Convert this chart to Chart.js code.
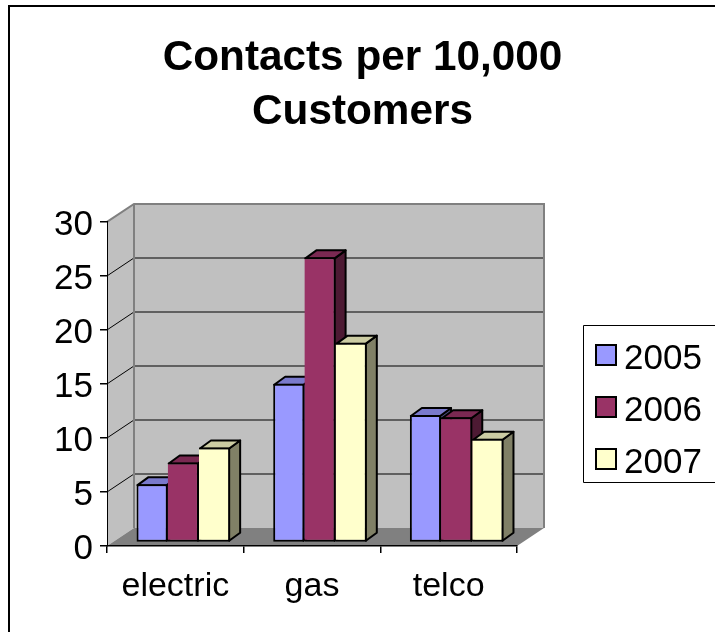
<!DOCTYPE html>
<html>
<head>
<meta charset="utf-8">
<title>Contacts per 10,000 Customers</title>
<script src="https://cdn.jsdelivr.net/npm/chart.js@4"></script>
<style>
html, body { margin: 0; padding: 0; background: #fff; overflow: hidden; }
#frame { position: absolute; left: 8px; top: 5px; width: 707px; height: 627px; border-left: 2px solid #000; border-top: 2px solid #000; box-sizing: border-box; }
#chart { display: block; }
</style>
</head>
<body>
<div id="frame"><canvas id="chart" width="705" height="625"></canvas></div>
<script>
// ===== DATA =====
const categories = ['electric', 'gas', 'telco']
const series2005 = [5.4, 14.7, 11.8]
const series2006 = [7.4, 26.4, 11.6]
const series2007 = [8.8, 18.5, 9.6]
const yTicks = [0, 5, 10, 15, 20, 25, 30]

const colors = { a: '#9999FF', b: '#993366', c: '#FFFFCC' }
const topFaces = { a: '#7A7ACC', b: '#7A2952', c: '#CCCCA3' }
const sideFaces = { a: '#4D4D80', b: '#4D1A33', c: '#808066' }
const fontName = '"Liberation Sans", Arial, sans-serif'

// depth of the box and of the bars, in pixels
const wallDx = 27, wallDy = -18
const barDx = 11, barDy = -8
const barShiftX = 8, barShiftY = -3.5

// ===== TITLE =====
// the right padding keeps room for the legend, the title still centres on the whole canvas
const titleCentrePlugin = {
    id: 'titleCentre',
    afterLayout(chart) {
        chart.titleBlock.left = 0
        chart.titleBlock.right = chart.width
    }
}

// ===== WALLS AND FLOOR =====
const wallsPlugin = {
    id: 'walls',
    beforeDraw(chart) {
        const ctx = chart.ctx
        const a = chart.chartArea
        const y = chart.scales.y
        ctx.save()

        // side wall
        ctx.fillStyle = '#C0C0C0'
        ctx.beginPath()
        ctx.moveTo(a.left, a.top)
        ctx.lineTo(a.left + wallDx, a.top + wallDy)
        ctx.lineTo(a.left + wallDx, a.bottom + wallDy)
        ctx.lineTo(a.left, a.bottom)
        ctx.closePath()
        ctx.fill()

        // back wall
        ctx.fillRect(a.left + wallDx, a.top + wallDy, a.right - a.left, a.bottom - a.top)

        // floor
        ctx.fillStyle = '#808080'
        ctx.beginPath()
        ctx.moveTo(a.left, a.bottom)
        ctx.lineTo(a.right, a.bottom)
        ctx.lineTo(a.right + wallDx, a.bottom + wallDy)
        ctx.lineTo(a.left + wallDx, a.bottom + wallDy)
        ctx.closePath()
        ctx.fill()

        // grid lines, on the back wall then down the side wall
        yTicks.forEach(v => {
            if(v === 0 || v === 30) return
            const py = y.getPixelForValue(v)
            ctx.strokeStyle = '#404040'
            ctx.lineWidth = 1.5
            ctx.beginPath()
            ctx.moveTo(a.left + wallDx, py + wallDy)
            ctx.lineTo(a.right + wallDx, py + wallDy)
            ctx.stroke()
            ctx.strokeStyle = '#000'
            ctx.lineWidth = 1
            ctx.beginPath()
            ctx.moveTo(a.left, py)
            ctx.lineTo(a.left + wallDx, py + wallDy)
            ctx.stroke()
        })

        // grey edges of the box
        ctx.strokeStyle = '#808080'
        ctx.lineWidth = 2
        ctx.beginPath()
        ctx.moveTo(a.left, a.top)
        ctx.lineTo(a.left + wallDx, a.top + wallDy)
        ctx.lineTo(a.right + wallDx, a.top + wallDy)
        ctx.lineTo(a.right + wallDx, a.bottom + wallDy)
        ctx.moveTo(a.left + wallDx, a.top + wallDy)
        ctx.lineTo(a.left + wallDx, a.bottom + wallDy)
        ctx.stroke()
        ctx.restore()
    }
}

// ===== BAR DEPTH =====
const barDepthPlugin = {
    id: 'barDepth',
    beforeDatasetsDraw(chart) {
        const ctx = chart.ctx
        ctx.save()
        ctx.translate(barShiftX, barShiftY)
        ctx.strokeStyle = '#000'
        ctx.lineWidth = 2
        ctx.lineJoin = 'round'
        chart.data.datasets.forEach((ds, i) => {
            chart.getDatasetMeta(i).data.forEach(el => {
                const l = el.x - el.width / 2 + 1
                const r = el.x + el.width / 2 - 1
                const t = el.y + 1
                const b = el.base - 1

                ctx.fillStyle = ds.sideFace
                ctx.beginPath()
                ctx.moveTo(r, t)
                ctx.lineTo(r + barDx, t + barDy)
                ctx.lineTo(r + barDx, b + barDy)
                ctx.lineTo(r, b)
                ctx.closePath()
                ctx.fill()
                ctx.stroke()

                ctx.fillStyle = ds.topFace
                ctx.beginPath()
                ctx.moveTo(l, t)
                ctx.lineTo(l + barDx, t + barDy)
                ctx.lineTo(r + barDx, t + barDy)
                ctx.lineTo(r, t)
                ctx.closePath()
                ctx.fill()
                ctx.stroke()
            })
        })
        ctx.restore()

        // the fronts are drawn by the library, moved back with the same shift
        ctx.save()
        ctx.translate(barShiftX, barShiftY)
    },
    afterDatasetsDraw(chart) {
        chart.ctx.restore()
    }
}

// ===== LEGEND =====
const legendBoxPlugin = {
    id: 'legendBox',
    afterDraw(chart) {
        const ctx = chart.ctx
        const boxLeft = 573.5, boxTop = 318.5, boxBottom = 475.5
        ctx.save()
        ctx.strokeStyle = '#000'
        ctx.lineWidth = 1
        ctx.beginPath()
        ctx.moveTo(chart.width, boxTop)
        ctx.lineTo(boxLeft, boxTop)
        ctx.lineTo(boxLeft, boxBottom)
        ctx.lineTo(chart.width, boxBottom)
        ctx.stroke()

        ctx.font = '35px ' + fontName
        ctx.textBaseline = 'middle'
        chart.data.datasets.forEach((ds, i) => {
            const cy = 348 + i * 52
            ctx.fillStyle = ds.backgroundColor
            ctx.fillRect(586, cy - 10, 20, 20)
            ctx.lineWidth = 2
            ctx.strokeRect(586, cy - 10, 20, 20)
            ctx.fillStyle = '#000'
            ctx.fillText(ds.label, 614, cy + 4)
        })
        ctx.restore()
    }
}

// ===== CHART =====
function makeSeries(label, data, key, skip) {
    return {
        label: label,
        data: data,
        backgroundColor: colors[key],
        borderColor: '#000',
        borderWidth: 2,
        borderSkipped: skip,
        topFace: topFaces[key],
        sideFace: sideFaces[key],
        categoryPercentage: 0.685,
        barPercentage: 1
    }
}

new Chart(document.getElementById('chart'), {
    type: 'bar',
    data: {
        labels: categories,
        datasets: [
            makeSeries('2005', series2005, 'a', false),
            makeSeries('2006', series2006, 'b', 'left'),
            makeSeries('2007', series2007, 'c', 'left')
        ]
    },
    plugins: [titleCentrePlugin, wallsPlugin, barDepthPlugin, legendBoxPlugin],
    options: {
        responsive: false,
        animation: false,
        layout: { padding: { left: 0, top: 0, right: 198, bottom: 0 } },
        plugins: {
            legend: { display: false },
            tooltip: { enabled: false },
            title: {
                display: true,
                text: ['Contacts per 10,000', 'Customers'],
                color: '#000',
                font: { family: fontName, size: 42.3, weight: 'bold', lineHeight: 1.29 },
                padding: { top: 23.8, bottom: 82 }
            }
        },
        scales: {
            x: {
                grid: { drawOnChartArea: false, drawTicks: true, tickLength: 7, color: '#000', lineWidth: 1.5 },
                border: { display: true, color: '#000', width: 1.5 },
                ticks: { color: '#000', font: { family: fontName, size: 34 }, padding: 13, maxRotation: 0 },
                afterFit(scale) { scale.height = 86 }
            },
            y: {
                min: 0,
                max: 30,
                grid: { drawOnChartArea: false, drawTicks: true, tickLength: 7, color: '#000', lineWidth: 1.5 },
                border: { display: true, color: '#000', width: 1 },
                ticks: { color: '#000', stepSize: 5, font: { family: fontName, size: 35 }, padding: 7, labelOffset: 3 },
                afterFit(scale) { scale.width = 97 }
            }
        }
    }
})
</script>
</body>
</html>
